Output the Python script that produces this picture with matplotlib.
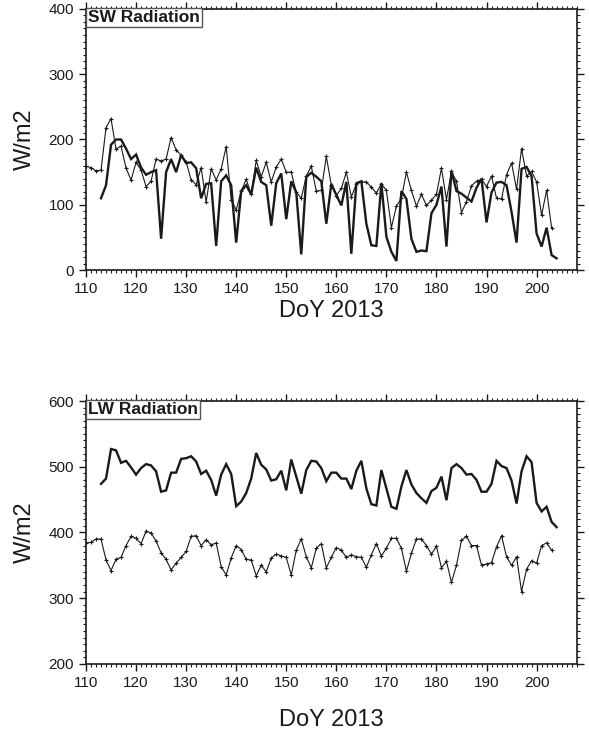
import numpy as np
import matplotlib
matplotlib.use("Agg")
import matplotlib.pyplot as plt
from matplotlib.ticker import MultipleLocator

plt.rcParams['font.family'] = ['Liberation Sans', 'DejaVu Sans']

# SW radiation, thin line with markers starts DoY 110, thick line starts DoY 113
sw_thin_start = 110
sw_thin = [159, 157, 152, 153, 218, 232, 185, 190, 156, 138,
           165, 153, 128, 136, 170, 167, 170, 203, 184, 176,
           166, 138, 131, 157, 104, 155, 138, 155, 189, 108,
           92, 121, 139, 116, 168, 143, 165, 135, 158, 170,
           150, 150, 119, 110, 144, 159, 121, 122, 174, 130,
           114, 125, 150, 112, 132, 135, 135, 127, 118, 132,
           122, 65, 98, 110, 150, 122, 98, 116, 99, 107,
           116, 156, 108, 151, 136, 88, 105, 129, 136, 139,
           128, 144, 110, 109, 146, 164, 124, 186, 144, 151,
           135, 84, 122, 65]
sw_thick_start = 113
sw_thick = [110, 130, 192, 200, 200, 186, 170,
            177, 157, 146, 150, 153, 48, 150, 170, 150, 176,
            164, 165, 156, 110, 132, 133, 37, 136, 145, 130,
            42, 121, 130, 116, 157, 135, 130, 68, 133, 148,
            78, 136, 119, 24, 143, 149, 143, 136, 71, 132,
            115, 99, 135, 25, 133, 136, 71, 38, 37, 133,
            51, 28, 14, 121, 109, 48, 28, 30, 29, 87,
            100, 128, 36, 152, 121, 117, 111, 105, 126, 140,
            73, 119, 134, 135, 130, 89, 42, 155, 158, 144,
            56, 36, 65, 23, 18]

# LW radiation
lw_thin_start = 110
lw_thin = [384, 385, 390, 390, 358, 342, 359, 362, 380, 394,
           391, 383, 402, 399, 387, 369, 359, 343, 353, 362,
           371, 394, 395, 380, 389, 381, 384, 348, 335, 361,
           380, 374, 359, 358, 334, 350, 340, 361, 367, 364,
           362, 335, 373, 390, 363, 346, 376, 383, 346, 362,
           377, 373, 362, 366, 363, 362, 347, 366, 383, 364,
           376, 391, 391, 376, 341, 368, 390, 390, 380, 367,
           379, 346, 356, 324, 350, 388, 394, 380, 380, 350,
           352, 354, 378, 395, 363, 350, 363, 310, 344, 357,
           353, 380, 384, 373]
lw_thick_start = 113
lw_thick = [474, 482, 527, 525, 506, 509, 499,
            488, 498, 504, 502, 493, 462, 464, 491, 491, 512,
            513, 516, 508, 489, 494, 480, 456, 488, 504, 489,
            440, 447, 460, 482, 521, 503, 496, 479, 481, 494,
            464, 511, 485, 459, 495, 509, 508, 498, 478, 491,
            491, 482, 482, 466, 494, 509, 467, 443, 441, 495,
            467, 439, 436, 470, 495, 473, 460, 452, 445, 463,
            468, 485, 449, 498, 504, 498, 488, 489, 480, 462,
            462, 474, 509, 501, 498, 479, 444, 493, 516, 507,
            445, 432, 439, 416, 408]

panels = [
    ("SW Radiation", sw_thin_start, sw_thin, sw_thick_start, sw_thick, (0, 400), [0, 100, 200, 300, 400], 3),
    ("LW Radiation", lw_thin_start, lw_thin, lw_thick_start, lw_thick, (200, 600), [200, 300, 400, 500, 600], 14),
]

fig = plt.figure(figsize=(5.89, 7.40), dpi=100)
rects = [[0.146, 0.635, 0.833, 0.353], [0.146, 0.103, 0.833, 0.355]]
col = '#1a1a1a'

for rect, (title, t0, thin, k0, thick, ylim, yt, xpad) in zip(rects, panels):
    ax = fig.add_axes(rect)
    d_thin = np.arange(t0, t0 + len(thin))
    d_thick = np.arange(k0, k0 + len(thick))
    ax.plot(d_thick, thick, color=col, lw=1.7, solid_joinstyle='miter')
    ax.plot(d_thin, thin, color=col, lw=0.8, marker='+', ms=3, mew=0.8)
    ax.set_xlim(110, 208)
    ax.set_ylim(*ylim)
    ax.set_xticks(range(110, 201, 10))
    ax.set_yticks(yt)
    ax.xaxis.set_minor_locator(MultipleLocator(1))
    ax.yaxis.set_minor_locator(MultipleLocator(10))
    ax.tick_params(which='both', direction='out', top=True, right=True,
                   labelsize=11, color=col, labelcolor=col, width=1)
    ax.tick_params(which='major', length=5)
    ax.tick_params(which='minor', length=2.5, width=0.8)
    for s in ax.spines.values():
        s.set_linewidth(1.2)
        s.set_color(col)
    ax.set_xlabel("DoY 2013", fontsize=17, color=col, labelpad=xpad)
    ax.set_ylabel("W/m2", fontsize=17, color=col, labelpad=9)
    ax.text(0.004, 0.995, title, transform=ax.transAxes, ha='left', va='top',
            fontsize=12.5, fontweight='bold', color=col,
            bbox=dict(boxstyle='square,pad=0.12', fc='white', ec='#555555', lw=1))

fig.savefig("out.png", dpi=100)
